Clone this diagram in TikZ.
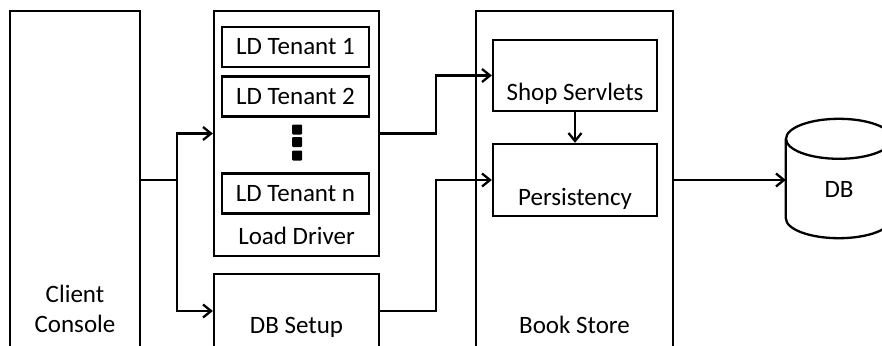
\documentclass[tikz,border=0pt]{standalone}
\usepackage{fontspec}
\setmainfont{Carlito}
\usetikzlibrary{arrows.meta}

\tikzset{
	box/.style={draw, line width=2.3pt, inner sep=0pt},
	tenant/.style={box, minimum width=147pt, minimum height=40pt},
	lbl/.style={inner sep=0pt, anchor=base},
	conn/.style={line width=2.3pt, -{Straight Barb[length=8pt,width=13pt,line width=2.3pt]}},
	dotsq/.style={fill, rounded corners=1pt, minimum size=10pt, inner sep=0pt}
}

\begin{document}
\begin{tikzpicture}[x=1pt, y=-1pt, font=\fontsize{25}{30}\selectfont]
		\useasboundingbox (0,0) rectangle (882,345);
		\clip (0,0) rectangle (882,345);

		\node[box, minimum width=130pt, minimum height=338pt] (cc) at (75, 180) {};
		\node[box, minimum width=165pt, minimum height=245pt] (ld) at (296.5, 133.5) {};
		\node[box, minimum width=165pt, minimum height=74pt] (dbs) at (296.5, 311) {};
		\node[box, minimum width=197pt, minimum height=338pt] (bs) at (574.5, 180) {};

		\node[tenant] (t1) at (295.5, 47) {LD Tenant 1};
		\node[tenant] (t2) at (295.5, 96.5) {LD Tenant 2};
		\node[tenant] (tn) at (295.5, 193.5) {LD Tenant n};
		\foreach \y [count=\i] in {129.5, 142, 155.5}
			\node[dotsq] (d\i) at (297, \y) {};

		\node[box, minimum width=164pt, minimum height=71pt] (ss) at (575, 75.5) {};
		\node[box, minimum width=164pt, minimum height=72pt] (ps) at (575, 180) {};

		\node[minimum width=106pt, minimum height=119pt, inner sep=0pt] (db) at (839, 178.5) {};
		\draw[line width=2.3pt] ([yshift=-20pt]db.north west) -- ([yshift=20pt]db.south west)
			arc[start angle=180, end angle=0, x radius=53, y radius=20] -- ([yshift=-20pt]db.north east);
		\draw[line width=2.3pt] ([yshift=-20pt]db.north) ellipse[x radius=53, y radius=20];

		\node[align=center, inner sep=0pt] (cclbl) at (75, 309) {Client\\Console};
		\node[lbl] (ldlbl) at (296.5, 244) {Load Driver};
		\node[lbl] (dbslbl) at (296.5, 333) {DB Setup};
		\node[lbl] (bslbl) at (574.5, 333) {Book Store};
		\node[lbl] (sslbl) at (575, 100) {Shop Servlets};
		\node[lbl] (pslbl) at (575, 205) {Persistency};
		\node[lbl] (dblbl) at (839, 197) {DB};

		\coordinate (j) at (177, 180);
		\draw[line width=2.3pt] (cc.east) -- (j);
		\draw[conn] (j) |- (ld.west);
		\draw[conn] (j) |- (dbs.west);
		\draw[conn] (ld.east) -- ++(56,0) |- (ss.west);
		\draw[conn] (dbs.east) -- ++(56,0) |- (ps.west);
		\draw[conn] (ss) -- (ps);
		\draw[conn] (bs.east) -- (bs.east -| db.west);
	\end{tikzpicture}
\end{document}
